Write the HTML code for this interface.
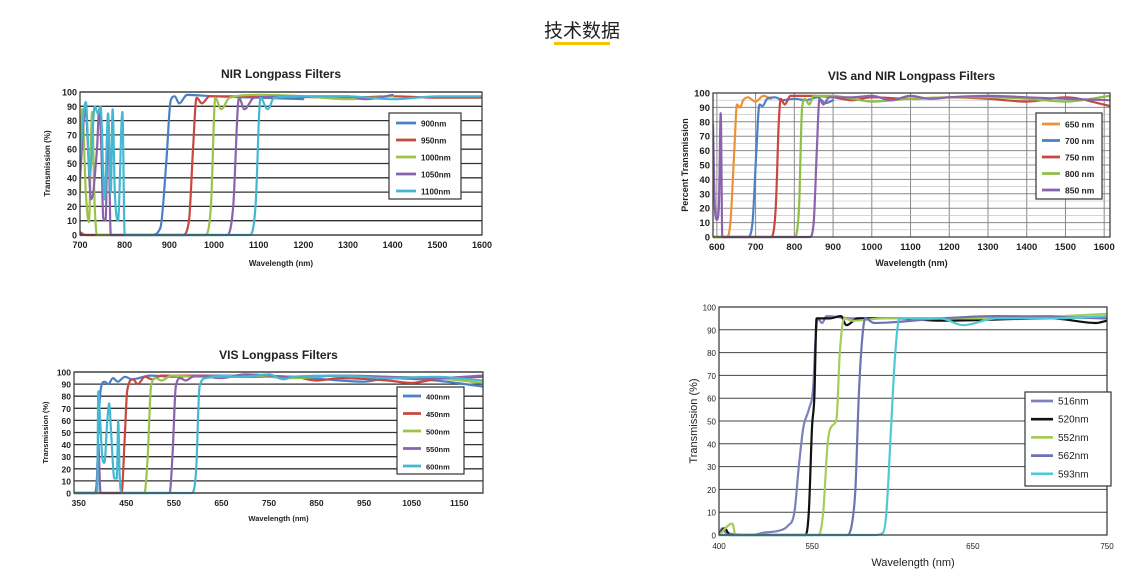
<!DOCTYPE html>
<html><head><meta charset="utf-8"><style>
html,body{margin:0;padding:0;background:#fff;}
svg{display:block;font-family:"Liberation Sans","Noto Sans CJK SC",sans-serif;}
</style></head><body>
<svg id="root" width="1135" height="579" viewBox="0 0 1135 579" xmlns="http://www.w3.org/2000/svg">
<text x="582" y="37" text-anchor="middle" font-size="19" fill="#222" font-family="'Liberation Sans','Noto Sans CJK SC',sans-serif">技术数据</text>
<rect x="554" y="42" width="56" height="3" fill="#f5c400"/>
</svg>
<script>
// ===== Chart 1: NIR Longpass =====
const C1_NAMES=["900nm","950nm","1000nm","1050nm","1100nm"];
const C1_S900=[[700,0],[860,0],[880,5],[893,50],[903,94],[912,97],[922,92],[940,98],[1000,97],[1100,96],[1200,95]];
const C1_S950=[[700,2],[712,0],[930,0],[944,10],[953,60],[961,96],[973,92],[990,97],[1100,97],[1300,96],[1400,97],[1500,96],[1600,96]];
const C1_S1000=[[700,30],[705,88],[713,30],[720,9],[727,86],[733,20],[738,0],[980,0],[993,20],[1003,96],[1016,88],[1035,96],[1100,98],[1200,97],[1300,95],[1400,97]];
const C1_S1050=[[700,40],[712,88],[725,25],[738,60],[743,88],[748,60],[752,12],[757,10],[763,82],[769,0],[1030,0],[1043,20],[1056,96],[1068,88],[1090,96],[1200,97],[1300,97],[1340,95],[1400,98]];
const C1_S1100=[[700,55],[713,93],[722,42],[733,90],[740,85],[746,90],[755,25],[763,85],[769,30],[773,88],[778,30],[785,10],[795,86],[800,0],[1080,0],[1093,20],[1104,96],[1120,88],[1135,96],[1200,97],[1300,97],[1400,95],[1500,97],[1600,97]];
const C1_XT=[700,800,900,1000,1100,1200,1300,1400,1500,1600];
const C1_YT=[0,10,20,30,40,50,60,70,80,90,100];
// ===== Chart 2: VIS and NIR =====
const C2_NAMES=["650 nm","700 nm","750 nm","800 nm","850 nm"];
const C2_S650=[[590,0],[625,0],[635,10],[645,60],[652,92],[660,90],[668,95],[680,97],[700,94],[720,98],[740,96]];
const C2_S700=[[590,0],[680,0],[692,10],[702,60],[710,92],[718,91],[730,96],[750,97],[770,95],[800,96],[830,95],[860,97],[880,93],[900,95]];
const C2_S750=[[590,0],[740,0],[752,20],[760,80],[765,96],[775,92],[790,98],[850,98],[900,97],[950,95],[1000,97],[1100,96],[1200,97],[1300,96],[1400,94],[1500,97],[1615,91]];
const C2_S800=[[590,0],[800,0],[812,20],[820,90],[828,96],[838,92],[850,98],[900,98],[950,96],[1000,94],[1100,96],[1200,97],[1300,97],[1400,96],[1500,94],[1615,98]];
const C2_S850=[[590,78],[595,20],[600,12],[605,20],[610,86],[614,0],[840,0],[850,10],[858,60],[865,96],[875,92],[890,97],[950,97],[1000,98],[1050,95],[1100,98],[1150,96],[1200,97],[1300,98],[1400,97],[1500,96],[1615,95]];
const C2_XT=[600,700,800,900,1000,1100,1200,1300,1400,1500,1600];
const C2_YT=[0,10,20,30,40,50,60,70,80,90,100];
// ===== Chart 3: VIS Longpass =====
const C3_NAMES=["400nm","450nm","500nm","550nm","600nm"];
const C3_S400=[[340,0],[383,0],[388,10],[392,60],[396,85],[404,92],[412,90],[422,95],[432,92],[447,96],[462,94],[500,97],[550,96],[600,97],[700,97],[800,96],[900,93],[950,92],[1000,95],[1100,93],[1200,88]];
const C3_S450=[[340,0],[440,0],[446,40],[452,85],[464,94],[474,90],[489,96],[504,94],[524,97],[600,97],[700,96],[800,96],[850,93],[900,95],[1000,93],[1050,91],[1100,94],[1200,96]];
const C3_S500=[[340,0],[488,0],[495,30],[502,88],[512,95],[524,93],[545,97],[600,96],[700,97],[800,95],[900,97],[1000,96],[1100,95],[1200,91]];
const C3_S550=[[340,0],[387,0],[391,40],[396,0],[541,0],[547,30],[554,88],[564,95],[574,93],[595,97],[650,95],[700,98],[800,96],[900,97],[1000,96],[1100,95],[1200,97]];
const C3_S600=[[340,0],[389,0],[391,84],[395,60],[400,28],[404,25],[410,60],[414,74],[418,50],[425,12],[430,12],[433,60],[436,15],[440,0],[588,0],[597,20],[604,88],[617,95],[650,96],[700,96],[750,98],[780,94],[800,96],[900,97],[1000,95],[1100,96],[1200,93]];
const C3_XT=[350,450,550,650,750,850,950,1050,1150];
const C3_YT=[0,10,20,30,40,50,60,70,80,90,100];
// ===== Chart 4 =====
const C4_NAMES=["516nm","520nm","552nm","562nm","593nm"];
const C4_S516=[[400,0],[403,3],[406,1],[430,0],[440,1],[455,2],[462,4],[468,10],[472,30],[476,47],[481,55],[485,65],[487,85],[489,95],[493,93],[497,96],[520,95],[600,95],[700,96],[750,95]];
const C4_S520=[[400,0],[405,3],[410,0],[478,0],[481,10],[484,48],[486,60],[488,95],[500,95],[510,96],[515,92],[525,95],[560,95],[600,94],[700,95],[740,93],[750,94]];
const C4_S552=[[400,0],[412,5],[415,0],[490,0],[494,10],[498,40],[502,48],[506,51],[509,80],[513,95],[520,94],[550,95],[650,95],[750,97]];
const C4_S562=[[400,0],[515,0],[520,5],[523,20],[526,60],[529,85],[532,95],[540,93],[600,95],[650,96],[750,95]];
const C4_S593=[[400,0],[540,0],[548,1],[551,10],[555,45],[559,80],[563,95],[600,95],[620,92],[650,95],[700,95],[750,96]];
const C4_XT=[400,484,629,750];
const C4_XTL=["400","550","650","750"];
const C4_YT=[0,10,20,30,40,50,60,70,80,90,100];

const NS="http://www.w3.org/2000/svg";
const root=document.getElementById('root');
function mk(tag,attrs,parent){const e=document.createElementNS(NS,tag);for(const k in attrs)e.setAttribute(k,attrs[k]);(parent||root).appendChild(e);return e;}
function smooth(p){
  const n=p.length;
  if(n<2)return "";
  const d=[],m=[];
  for(let i=0;i<n-1;i++){const h=p[i+1][0]-p[i][0];d.push(h===0?0:(p[i+1][1]-p[i][1])/h);}
  m[0]=d[0];m[n-1]=d[n-2];
  for(let i=1;i<n-1;i++){m[i]=(d[i-1]*d[i]<=0)?0:(d[i-1]+d[i])/2;}
  for(let i=0;i<n-1;i++){
    if(d[i]===0){m[i]=0;m[i+1]=0;continue;}
    const a=m[i]/d[i],b=m[i+1]/d[i],s=a*a+b*b;
    if(s>9){const t=3/Math.sqrt(s);m[i]=t*a*d[i];m[i+1]=t*b*d[i];}
  }
  let s="M"+p[0][0].toFixed(1)+","+p[0][1].toFixed(1);
  for(let i=0;i<n-1;i++){
    const h=(p[i+1][0]-p[i][0])/3;
    s+=" C"+(p[i][0]+h).toFixed(1)+","+(p[i][1]+m[i]*h).toFixed(1)+" "+(p[i+1][0]-h).toFixed(1)+","+(p[i+1][1]-m[i+1]*h).toFixed(1)+" "+p[i+1][0].toFixed(1)+","+p[i+1][1].toFixed(1);
  }
  return s;
}
function chart(cfg){
  const g=mk('g',{});
  
  
  const sx=v=>cfg.L+(v-cfg.x0)/(cfg.x1-cfg.x0)*(cfg.R-cfg.L);
  const sy=v=>cfg.B-(v-0)/100*(cfg.B-cfg.T);
  if(cfg.title){const t=mk('text',{x:(cfg.L+cfg.R)/2,y:cfg.titleY,'text-anchor':'middle','font-size':12,'font-weight':'bold',fill:'#222'},g);t.textContent=cfg.title;
    
    }
  if(cfg.vgrid){cfg.xt.forEach(v=>{const l=mk('line',{x1:sx(v),x2:sx(v),y1:cfg.T,y2:cfg.B,stroke:cfg.gridC,'stroke-width':1},g);
    
    });}
  if(cfg.minor){for(let v=5;v<100;v+=10){const l=mk('line',{x1:cfg.L,x2:cfg.R,y1:sy(v),y2:sy(v),stroke:'#bbb','stroke-width':0.6},g);
    
    }}
  cfg.yt.forEach(v=>{
    const l=mk('line',{x1:cfg.L,x2:cfg.R,y1:sy(v),y2:sy(v),stroke:cfg.gridC,'stroke-width':cfg.gridW},g);
    
    
    const t=mk('text',{x:cfg.L-3,y:sy(v)+3.5,'text-anchor':'end','font-size':cfg.fs,fill:'#222','font-weight':cfg.fw},g);
    t.textContent=v;
    
    
  });
  cfg.xt.forEach((v,i)=>{
    const t=mk('text',{x:sx(v),y:cfg.B+cfg.xlOff,'text-anchor':'middle','font-size':cfg.fs,fill:'#222','font-weight':cfg.fw},g);
    t.textContent=cfg.xtl?cfg.xtl[i]:v;
    
    
  });
  const clip=mk('clipPath',{id:cfg.id+'-clip'},g);
  mk('rect',{x:cfg.L,y:cfg.T-4,width:cfg.R-cfg.L,height:cfg.B-cfg.T+6},clip);
  const sg=mk('g',{'clip-path':'url(#'+cfg.id+'-clip)'},g);
  cfg.series.forEach((s,i)=>{
    const p=mk('path',{d:smooth(s.map(q=>[sx(q[0]),sy(q[1])])),fill:'none',stroke:cfg.colors[i],'stroke-width':cfg.lw,'stroke-linejoin':'round','stroke-linecap':'round'},sg);
    
    
  });
  const fr=mk('rect',{x:cfg.L,y:cfg.T,width:cfg.R-cfg.L,height:cfg.B-cfg.T,fill:'none',stroke:'#333','stroke-width':1.2},g);
  
  
  const xt=mk('text',{x:(cfg.L+cfg.R)/2,y:cfg.xTitleY,'text-anchor':'middle','font-size':cfg.tfs,fill:'#222','font-weight':cfg.fw},g);
  xt.textContent="Wavelength (nm)";
  
  
  const yt=mk('text',{x:cfg.yTitleX,y:(cfg.T+cfg.B)/2,'text-anchor':'middle','font-size':cfg.tfs,fill:'#222','font-weight':cfg.fw,transform:'rotate(-90 '+cfg.yTitleX+' '+(cfg.T+cfg.B)/2+')'},g);
  yt.textContent=cfg.yTitle;
  
  
  const lg=cfg.leg;
  const lb=mk('rect',{x:lg.x,y:lg.y,width:lg.w,height:lg.h,fill:'#fff',stroke:'#333','stroke-width':1.2},g);
  
  
  cfg.names.forEach((n,i)=>{
    const yy=lg.y0+i*lg.dy;
    const l=mk('line',{x1:lg.x+lg.lx,x2:lg.x+lg.lx+lg.ll,y1:yy,y2:yy,stroke:cfg.colors[i],'stroke-width':cfg.lw+0.5},g);
    
    
    const t=mk('text',{x:lg.x+lg.lx+lg.ll+5,y:yy+3.5,'font-size':lg.fs,fill:'#222','font-weight':cfg.fw},g);
    t.textContent=n;
    
    
  });
}
const COL=["#4a80c4","#c9473f","#9cc24a","#8a63ad","#44b8d2"];
chart({id:'nir-chart',title:'NIR Longpass Filters',titleY:78,L:80,R:482,T:92,B:235,x0:700,x1:1600,xt:C1_XT,yt:C1_YT,
  series:[C1_S900,C1_S950,C1_S1000,C1_S1050,C1_S1100],names:C1_NAMES,colors:COL,lw:2.2,gridC:'#333',gridW:1.3,fs:9,fw:'bold',tfs:8,
  xlOff:13,xTitleY:266,yTitleX:50,yTitle:'Transmission (%)',leg:{x:389,y:113,w:72,h:86,y0:123,dy:17,lx:7,ll:20,fs:8}});
chart({id:'vis-nir-chart',title:'VIS and NIR Longpass Filters',titleY:80,L:713,R:1110,T:93,B:237,x0:590,x1:1615,xt:C2_XT,yt:C2_YT,
  series:[C2_S650,C2_S700,C2_S750,C2_S800,C2_S850],names:C2_NAMES,colors:["#ea923a","#4a80c4","#c9473f","#8fbe46","#8a63ad"],lw:2.2,gridC:'#888',gridW:1,minor:true,vgrid:true,fs:9.5,fw:'bold',tfs:9,
  xlOff:13,xTitleY:266,yTitleX:688,yTitle:'Percent Transmission',leg:{x:1036,y:113,w:66,h:86,y0:124,dy:16.5,lx:6,ll:18,fs:8.5}});
chart({id:'vis-chart',title:'VIS Longpass Filters',titleY:359,L:74,R:483,T:372,B:493,x0:340,x1:1200,xt:C3_XT,yt:C3_YT,
  series:[C3_S400,C3_S450,C3_S500,C3_S550,C3_S600],names:C3_NAMES,colors:COL,lw:2.2,gridC:'#333',gridW:1.3,fs:8.5,fw:'bold',tfs:7.5,
  xlOff:13,xTitleY:521,yTitleX:48,yTitle:'Transmission (%)',leg:{x:397,y:387,w:67,h:87,y0:396,dy:17.5,lx:6,ll:18,fs:7.5}});
chart({id:'green-filters-chart',title:'',L:719,R:1107,T:307,B:535,x0:400,x1:750,xt:C4_XT,xtl:C4_XTL,yt:C4_YT,
  series:[C4_S516,C4_S520,C4_S552,C4_S562,C4_S593],names:C4_NAMES,colors:["#7d80b9","#111","#a8cb5a","#6f73b0","#4ecad6"],lw:2.2,gridC:'#444',gridW:1,fs:8,fw:'normal',tfs:11,
  xlOff:14,xTitleY:566,yTitleX:697,yTitle:'Transmission (%)',leg:{x:1025,y:392,w:86,h:94,y0:401,dy:18.2,lx:6,ll:22,fs:10}});
</script>
</body></html>
